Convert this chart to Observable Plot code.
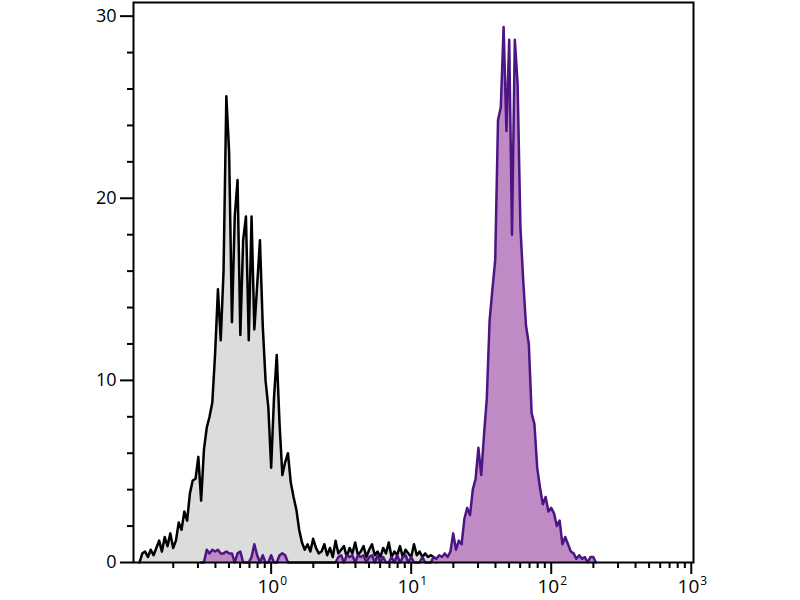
<!DOCTYPE html>
<html>
<head>
<meta charset="utf-8">
<script src="https://cdn.jsdelivr.net/npm/d3@7"></script>
<script src="https://cdn.jsdelivr.net/npm/@observablehq/plot@0.6"></script>
<style>
  html, body { margin: 0; padding: 0; background: #fff; }
  #chart svg { display: block; }
</style>
</head>
<body>
<div id="chart"></div>
<script>
// Histogram channels: log10 start of first channel and channel width (decades)
const binWidthLog = 0.02;
const grayStartLog = -0.94;
const purpleStartLog = -0.5;

// Unstained / control histogram (counts per channel)
const grayCounts = [
  0, 0.5, 0.6, 0.3, 0.7, 0.4, 0.8, 1.2, 0.6, 1.4, 0.9, 1.6, 0.8, 1.2,
  2.2, 1.8, 2.8, 2.3, 3.8, 4.5, 4.6, 5.8, 3.4, 6.2, 7.4, 8.0, 8.8,
  11.5, 15.0, 12.2, 16.0, 25.6, 22.5, 13.2, 19.0, 21.0, 12.5, 17.7, 19.0, 12.2, 19.0, 12.8, 15.2, 17.7, 13.0,
  10.0, 8.5, 5.2, 9.0, 11.4, 7.6, 4.8, 5.5, 6.0, 4.4, 3.6, 2.9, 1.8, 1.1, 0.7, 1.0, 0.6, 1.3, 0.8, 0.5,
  0.6, 1.0, 0.4, 0.8, 0.3, 1.2, 0.5, 0.7, 0.9, 0.3, 0.8, 0.5, 1.1, 0.4, 0.6, 0.9, 0.3, 0.7, 1.0, 0.4,
  0.6, 0.3, 0.8, 0.5, 1.1, 0.3, 0.6, 0.4, 0.9, 0.3, 0.7, 0.5, 0.3, 1.0, 0.4, 0.6, 0.3, 0.5, 0.3, 0.4, 0.3, 0
];

// Stained histogram: low stray events, then the main peak
const purpleLow = [
  0, 0, 0.7, 0.5, 0.7, 0.6, 0.7, 0.5, 0.5, 0.6, 0.5, 0.5, 0, 0.5, 0.6, 0,
  0, 0, 0.3, 1.0, 0.4, 0, 0.4, 0, 0, 0.4, 0, 0, 0.4, 0.5, 0.4, 0,
  0, 0, 0, 0, 0, 0, 0, 0, 0, 0, 0, 0, 0, 0, 0, 0, 0,
  0.3, 0.4, 0, 0.4, 0.3, 0.4, 0, 0.4, 0.3, 0.4, 0, 0.3, 0.4, 0, 0.4, 0, 0.3, 0, 0,
  0.3, 0, 0.4, 0, 0.3, 0.4, 0, 0.3, 0, 0, 0, 0.3, 0, 0, 0, 0.3, 0.2, 0.4
];
const purplePeak = [
  0.3, 0.5, 0.3, 0.6, 1.6, 0.7, 1.2, 1.0, 2.4, 3.0, 2.6, 4.0, 4.6, 6.3, 4.8, 7.0,
  9.0, 13.3, 15.0, 16.6, 24.3, 25.0, 29.4, 23.7, 28.7, 18.0, 28.7, 26.3, 18.4, 15.5,
  13.0, 12.0, 8.2, 7.6, 5.2, 4.1, 3.2, 3.6, 2.8, 3.0, 2.7, 2.0, 2.3, 1.0, 1.4, 1.0,
  0.6, 0.5, 0.2, 0.4, 0.2, 0.3, 0, 0.3, 0.3, 0
];

const yMajor = [0, 10, 20, 30];
const yMinor = d3.range(2, 31, 2).filter(v => v % 10 !== 0);
const xMajor = [1, 10, 100, 1000];
const xMinor = [0.2,0.3,0.4,0.5,0.6,0.7,0.8,0.9, 2,3,4,5,6,7,8,9, 20,30,40,50,60,70,80,90, 200,300,400,500,600,700,800,900];

const toRows = (start, vals) => vals.map((c, i) => ({x: 10 ** (start + i * binWidthLog), c}));
const grayRows = toRows(grayStartLog, grayCounts);
const purpleRows = toRows(purpleStartLog, purpleLow.concat(purplePeak));

const FONT = "'Open Sans', 'DejaVu Sans', sans-serif";

const chart = Plot.plot({
  width: 800,
  height: 600,
  marginLeft: 133,
  marginRight: 107,
  marginTop: 2,
  marginBottom: 38,
  style: {fontFamily: FONT, background: "#fff", color: "#000"},
  x: {type: "log", domain: [10 ** -0.983, 10 ** 3.016]},
  y: {domain: [0, 30.75]},
  marks: [
    Plot.areaY(grayRows, {x: "x", y: "c", fill: "#dcdcdc"}),
    Plot.lineY(grayRows, {x: "x", y: "c", stroke: "#000", strokeWidth: 2.5}),
    Plot.areaY(purpleRows, {x: "x", y: "c", fill: "#c08bc4"}),
    Plot.lineY(purpleRows, {x: "x", y: "c", stroke: "#4b1684", strokeWidth: 2.5}),
    Plot.frame({stroke: "#000", strokeWidth: 2}),
    Plot.axisY({ticks: yMajor, tickSize: 13, tickPadding: 4, fontSize: 18, strokeWidth: 2, label: null}),
    Plot.axisY({ticks: yMinor, tickSize: 6, tickFormat: () => "", strokeWidth: 2, label: null}),
    Plot.axisX({ticks: xMajor, tickSize: 12, tickFormat: () => "", strokeWidth: 2, label: null}),
    Plot.axisX({ticks: xMinor, tickSize: 6, tickFormat: () => "", strokeWidth: 2, label: null}),
    Plot.text(xMajor, {x: d => d, frameAnchor: "bottom", text: () => "10", textAnchor: "end", dx: 8, dy: 30, fontSize: 19}),
    Plot.text(xMajor, {x: d => d, frameAnchor: "bottom", text: d => String(Math.round(Math.log10(d))), textAnchor: "start", dx: 9, dy: 22, fontSize: 12})
  ]
});
document.getElementById("chart").appendChild(chart);
</script>
</body>
</html>
